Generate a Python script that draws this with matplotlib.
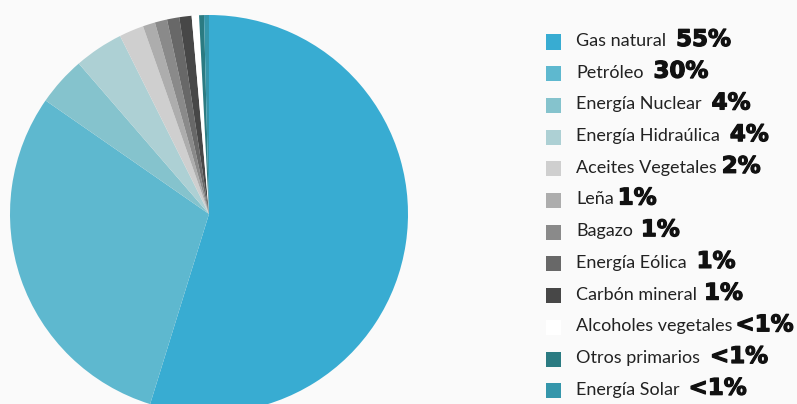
import matplotlib
matplotlib.use("Agg")
import matplotlib.pyplot as plt
import matplotlib.patheffects as pe
from matplotlib.patches import Rectangle

# Oferta de energía primaria por fuente
fuentes = ["Gas natural", "Petróleo", "Energía Nuclear", "Energía Hidraúlica",
           "Aceites Vegetales", "Leña", "Bagazo", "Energía Eólica",
           "Carbón mineral", "Alcoholes vegetales", "Otros primarios", "Energía Solar"]
valores = [55, 30, 4, 4, 2, 1, 1, 1, 1, 0.6, 0.4, 0.4]
etiquetas = ["55%", "30%", "4%", "4%", "2%", "1%", "1%", "1%", "1%", "<1%", "<1%", "<1%"]
colores = ["#38acd2", "#5eb8cf", "#85c3cd", "#add0d4", "#cfcfcf", "#adadad",
           "#8a8a8a", "#686868", "#474747", "#ffffff", "#2b7b82", "#3596ab"]

# espacio entre nombre y porcentaje (px)
gaps = [10, 10, 10, 10, 5, 4, 8, 10, 7, 3, 10, 9]

W, H = 797, 404
fig = plt.figure(figsize=(W / 100, H / 100), dpi=100)
fig.patch.set_facecolor("#fafafa")

# torta: centro (209, 214) px desde arriba, radio 199 px
cx, cy, r = 209, 214, 199
ax = fig.add_axes([(cx - r) / W, (H - cy - r) / H, 2 * r / W, 2 * r / H])
ax.pie(valores, colors=colores, startangle=90, counterclock=False, radius=1,
       wedgeprops=dict(linewidth=0))
ax.set_xlim(-1, 1)
ax.set_ylim(-1, 1)
ax.axis("off")

# leyenda
fig.canvas.draw()
renderer = fig.canvas.get_renderer()
for i, (f, p, c) in enumerate(zip(fuentes, etiquetas, colores)):
    yc = 42 + 31.7 * i
    fig.patches.append(Rectangle((546 / W, (H - yc - 7.5) / H), 15 / W, 15 / H,
                                 transform=fig.transFigure, facecolor=c,
                                 edgecolor="none"))
    t = fig.text(576 / W, (H - yc - 4) / H, f, fontsize=13, family="Lato",
                 color="#222222", va="baseline", ha="left")
    bb = t.get_window_extent(renderer)
    fig.text((bb.x1 + gaps[i]) / W, (H - yc - 4) / H, p, fontsize=16.5,
             family="DejaVu Sans", fontweight="bold", color="#111111",
             va="baseline", ha="left",
             path_effects=[pe.withStroke(linewidth=0.9, foreground="#111111")])

fig.savefig("out.png", dpi=100, facecolor=fig.get_facecolor())
